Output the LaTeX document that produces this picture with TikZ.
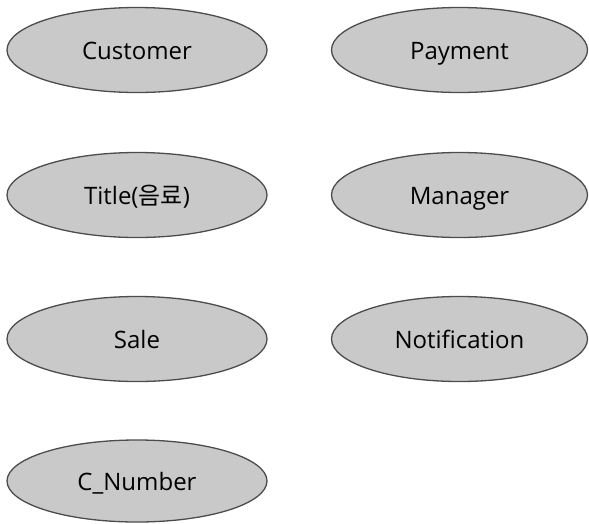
\documentclass[tikz,border=0pt]{standalone}
\usepackage{fontspec}
\setmainfont{Open Sans}
\newfontfamily\kofont{Noto Sans CJK KR}
\usetikzlibrary{shapes.geometric}
\begin{document}
\begin{tikzpicture}[x=1pt,y=-1pt,
  ent/.style={ellipse, draw=black!70, line width=1.3pt, fill=black!21,
    minimum width=260pt, minimum height=85pt, inner sep=0pt,
    text height=18pt, text depth=0pt,
    font=\fontsize{24}{28}\selectfont}]
\useasboundingbox (0,0) rectangle (589,523);
\node[ent] (customer) at (137,50) {Customer};
\node[ent, minimum width=256pt] (payment) at (459.5,50) {Payment};
\node[ent] (title) at (137,195) {Title({\kofont 음료})};
\node[ent, minimum width=256pt] (manager) at (459.5,195) {Manager};
\node[ent] (sale) at (137,339) {Sale};
\node[ent, minimum width=256pt] (notification) at (459.5,339) {Notification};
\node[ent, minimum height=82pt] (cnumber) at (137,481) {C\_Number};
\end{tikzpicture}
\end{document}
